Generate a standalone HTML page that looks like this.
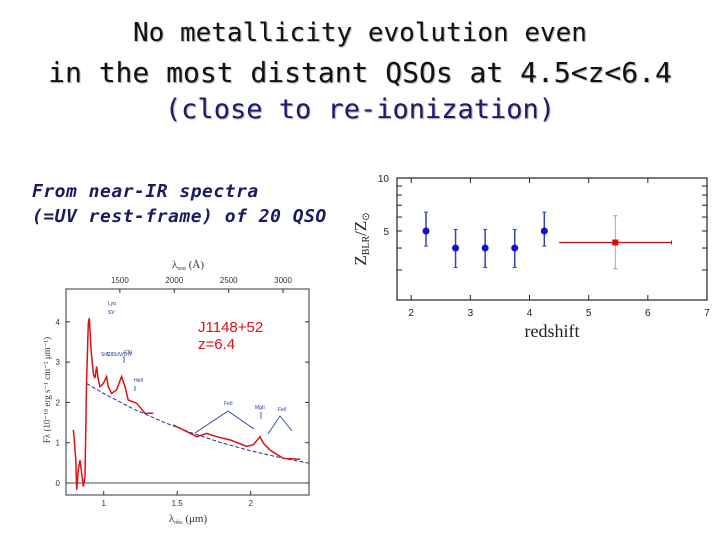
<!DOCTYPE html>
<html><head><meta charset="utf-8">
<style>
body{margin:0;background:#fff;}
#wrap{position:relative;width:720px;height:540px;overflow:hidden;background:#fff;font-family:"Liberation Sans",sans-serif;}
.title{position:absolute;left:0;width:720px;text-align:center;font-family:"DejaVu Sans Mono","Liberation Mono",monospace;font-size:27px;color:#111;text-shadow:1px 1px 1px #aaa;}
.sub{position:absolute;left:32px;font-family:"DejaVu Sans Mono","Liberation Mono",monospace;font-weight:bold;font-style:italic;font-size:18px;letter-spacing:0.5px;color:#1a1a60;}
</style></head><body>
<div id="wrap">
<div class="title" style="top:18px;font-size:26px">No metallicity evolution even</div>
<div class="title" style="top:56px;font-size:28px">in the most distant QSOs at 4.5&lt;z&lt;6.4</div>
<div class="title" style="top:94px;color:#1a1a70">(close to re-ionization)</div>
<div class="sub" style="top:181px">From near-IR spectra</div>
<div class="sub" style="top:206px">(=UV rest-frame) of 20 QSO</div>
<svg id="svg" width="720" height="540" style="position:absolute;left:0;top:0"></svg>
</div>
<script>
// ---- right chart data ----
const zBins = [2.25, 2.75, 3.25, 3.75, 4.25];
const zMetal = [5.0, 4.0, 4.0, 4.0, 5.0];
const zErrHi = [6.4, 5.1, 5.1, 5.1, 6.4];
const zErrLo = [4.1, 3.1, 3.1, 3.1, 4.1];
const redZ = [5.45];
const redMetal = [4.3];
const redZLo = [4.5];
const redZHi = [6.4];
const redErrHi = [6.1];
const redErrLo = [3.05];
const xTicks = [2, 3, 4, 5, 6, 7];
const yTickLabels = [5, 10];
// ---- left chart data ----
const specObs = [0.793,0.800,0.810,0.816,0.827,0.839,0.850,0.861,0.873,0.884,0.895,0.902,0.914,0.929,0.941,0.952,0.963,0.975,0.997,1.020,1.031,1.054,1.088,1.122,1.145,1.167,1.224,1.281,1.337,null,1.473,1.541,1.633,1.701,1.769,1.860,1.973,2.018,2.063,2.086,2.131,2.222,2.336];
const specFlux = [1.32,1.07,0.57,-0.17,0.32,0.57,0.24,-0.09,0.16,2.56,3.96,4.09,3.30,2.72,2.60,2.89,2.56,2.39,2.47,2.64,2.39,2.22,2.31,2.64,2.39,2.06,1.98,1.73,1.73,null,1.44,1.32,1.15,1.23,1.15,1.07,0.91,0.95,1.15,0.99,0.82,0.61,0.59];
const contObs = [0.884,1.0,1.2,1.4,1.6,1.8,2.0,2.2,2.40];
const contFlux = [2.47,2.22,1.84,1.52,1.24,1.00,0.80,0.63,0.49];
const obsTicks = [1, 1.5, 2];
const restTicks = [1500, 2000, 2500, 3000];
const fluxTicks = [0, 1, 2, 3, 4];

const svg = document.getElementById('svg');
const NS = 'http://www.w3.org/2000/svg';
function mk(tag, attrs, parent) {
  const e = document.createElementNS(NS, tag);
  for (const k in attrs) e.setAttribute(k, attrs[k]);
  (parent || svg).appendChild(e);
  return e;
}
const R = {l:397, r:707, t:178, b:300};
const xR = z => R.l + (z - 1.76) * (R.r - R.l) / (7 - 1.76);
const yR = v => R.t + (1 - Math.log10(v)) * 176;

let g = mk('g', {});


mk('rect', {x:R.l, y:R.t, width:R.r-R.l, height:R.b-R.t, fill:'none', stroke:'#222', 'stroke-width':1.2}, g);
xTicks.forEach(t => {
  const x = xR(t);
  let tk = mk('line', {x1:x, x2:x, y1:R.b, y2:R.b-5, stroke:'#222'}, g);
  
  
  mk('line', {x1:x, x2:x, y1:R.t, y2:R.t+5, stroke:'#222'}, g);
  let tx = mk('text', {x:x, y:R.b+16, 'text-anchor':'middle', 'font-size':10, 'font-family':'Liberation Sans, sans-serif', fill:'#222'}, g);
  tx.textContent = t;
  
  
});
[3,4,5,6,7,8,9,10].forEach(v => {
  const y = yR(v);
  mk('line', {x1:R.l, x2:R.l+5, y1:y, y2:y, stroke:'#222'}, g);
  mk('line', {x1:R.r, x2:R.r-5, y1:y, y2:y, stroke:'#222'}, g);
});
yTickLabels.forEach(v => {
  let tx = mk('text', {x:R.l-8, y:yR(v)+4, 'text-anchor':'end', 'font-size':10, 'font-family':'Liberation Sans, sans-serif', fill:'#222'}, g);
  tx.textContent = v;
  
  
});
let xl = mk('text', {x:(R.l+R.r)/2, y:337, 'text-anchor':'middle', 'font-size':18, 'font-family':'Liberation Serif, serif', fill:'#222'}, g);
xl.textContent = 'redshift';


let yl = mk('text', {x:0, y:0, 'text-anchor':'middle', 'font-size':17, 'font-family':'Liberation Serif, serif', fill:'#222', transform:'translate(366,239) rotate(-90)'}, g);
yl.innerHTML = 'Z<tspan font-size="10" dy="3">BLR</tspan><tspan dy="-3">/Z</tspan><tspan font-size="10" dy="3">⊙</tspan>';



zBins.forEach((z, i) => {
  const x = xR(z);
  let eb = mk('line', {x1:x, x2:x, y1:yR(zErrHi[i]), y2:yR(zErrLo[i]), stroke:'#3344bb', 'stroke-width':1.5}, g);
  
  
  mk('line', {x1:x-2, x2:x+2, y1:yR(zErrHi[i]), y2:yR(zErrHi[i]), stroke:'#3344bb'}, g);
  mk('line', {x1:x-2, x2:x+2, y1:yR(zErrLo[i]), y2:yR(zErrLo[i]), stroke:'#3344bb'}, g);
  let p = mk('circle', {cx:x, cy:yR(zMetal[i]), r:3.5, fill:'#1010d0'}, g);
  
  
});
redZ.forEach((z, i) => {
  const x = xR(z), y = yR(redMetal[i]);
  mk('line', {x1:x, x2:x, y1:yR(redErrHi[i]), y2:yR(redErrLo[i]), stroke:'#d08080', 'stroke-width':0.8}, g);
  mk('line', {x1:x-2, x2:x+2, y1:yR(redErrHi[i]), y2:yR(redErrHi[i]), stroke:'#d08080'}, g);
  mk('line', {x1:x-2, x2:x+2, y1:yR(redErrLo[i]), y2:yR(redErrLo[i]), stroke:'#d08080'}, g);
  let hb = mk('line', {x1:xR(redZLo[i]), x2:xR(redZHi[i]), y1:y, y2:y, stroke:'#c01010', 'stroke-width':1.2}, g);
  
  
  mk('line', {x1:xR(redZHi[i]), x2:xR(redZHi[i]), y1:y-2, y2:y+2, stroke:'#c01010'}, g);
  let p = mk('rect', {x:x-3, y:y-3, width:6, height:6, fill:'#d01010'}, g);
  
  
});

const L = {l:66, r:309, t:289, b:495};
const xL = o => 103.7 + (o - 1) * 147;
const yL = f => 483 - f * 40.3;
let h = mk('g', {});


mk('rect', {x:L.l, y:L.t, width:L.r-L.l, height:L.b-L.t, fill:'none', stroke:'#333', 'stroke-width':1}, h);
mk('line', {x1:L.l, x2:L.r, y1:yL(0), y2:yL(0), stroke:'#554433', 'stroke-width':1}, h);
fluxTicks.forEach(f => {
  mk('line', {x1:L.l, x2:L.l+4, y1:yL(f), y2:yL(f), stroke:'#333'}, h);
  mk('line', {x1:L.r, x2:L.r-4, y1:yL(f), y2:yL(f), stroke:'#333'}, h);
  let t = mk('text', {x:L.l-6, y:yL(f)+3, 'text-anchor':'end', 'font-size':8, fill:'#333'}, h);
  t.textContent = f;
  
  
});
obsTicks.forEach(o => {
  mk('line', {x1:xL(o), x2:xL(o), y1:L.b, y2:L.b-4, stroke:'#333'}, h);
  let t = mk('text', {x:xL(o), y:L.b+11, 'text-anchor':'middle', 'font-size':8, fill:'#333'}, h);
  t.textContent = o;
  
  
});
restTicks.forEach(r => {
  const x = xL(r * 7.4 / 10000);
  mk('line', {x1:x, x2:x, y1:L.t, y2:L.t+4, stroke:'#333'}, h);
  let t = mk('text', {x:x, y:L.t-6, 'text-anchor':'middle', 'font-size':8, fill:'#333'}, h);
  t.textContent = r;
  
  
});
let tl = mk('text', {x:188, y:268, 'text-anchor':'middle', 'font-size':11, 'font-family':'Liberation Serif, serif', fill:'#333'}, h);
tl.innerHTML = 'λ<tspan font-size="6" dy="2">rest</tspan><tspan dy="-2"> (Å)</tspan>';


let bl = mk('text', {x:188, y:522, 'text-anchor':'middle', 'font-size':11, 'font-family':'Liberation Serif, serif', fill:'#333'}, h);
bl.innerHTML = 'λ<tspan font-size="6" dy="2">obs</tspan><tspan dy="-2"> (μm)</tspan>';


let ylab = mk('text', {x:0, y:0, 'text-anchor':'middle', 'font-size':9, 'font-family':'Liberation Serif, serif', fill:'#333', transform:'translate(50,390) rotate(-90)'}, h);
ylab.textContent = 'Fλ (10⁻¹⁸ erg s⁻¹ cm⁻² μm⁻¹)';



let cd = '';
contObs.forEach((o, i) => { cd += (i ? 'L' : 'M') + xL(o).toFixed(1) + ',' + yL(contFlux[i]).toFixed(1); });
let cont = mk('path', {d:cd, fill:'none', stroke:'#223399', 'stroke-width':1, 'stroke-dasharray':'4,2'}, h);


let sd = '', pen = false;
specObs.forEach((o, i) => {
  if (o === null) { pen = false; return; }
  sd += (pen ? 'L' : 'M') + xL(o).toFixed(1) + ',' + yL(specFlux[i]).toFixed(1);
  pen = true;
});
let sp = mk('path', {d:sd, fill:'none', stroke:'#dd1111', 'stroke-width':1.5}, h);



const ann = [[108,305,'Lyα'],[108,314,'SV'],[101,356,'SiIV'],[107,356,'CII'],[113,356,'SiIV/OIV'],[124,354,'CIV'],[134,382,'HeII'],[224,405,'FeII'],[255,409,'MgII'],[278,411,'FeII']];
ann.forEach(a => {
  let t = mk('text', {x:a[0], y:a[1], 'font-size':5, fill:'#223399'}, h);
  t.textContent = a[2];
  
  
});
mk('path', {d:'M195,433 L228,411 L254,429 M268,434 L280,416 L292,431 M261,412 L261,419 M135,386 L135,391 M124,356 L124,363', fill:'none', stroke:'#223399', 'stroke-width':0.8}, h);
let lb1 = mk('text', {x:198, y:332, 'font-size':15, fill:'#dd1111'}, h);
lb1.textContent = 'J1148+52';


let lb2 = mk('text', {x:198, y:349, 'font-size':15, fill:'#dd1111'}, h);
lb2.textContent = 'z=6.4';


</script>
</body></html>
